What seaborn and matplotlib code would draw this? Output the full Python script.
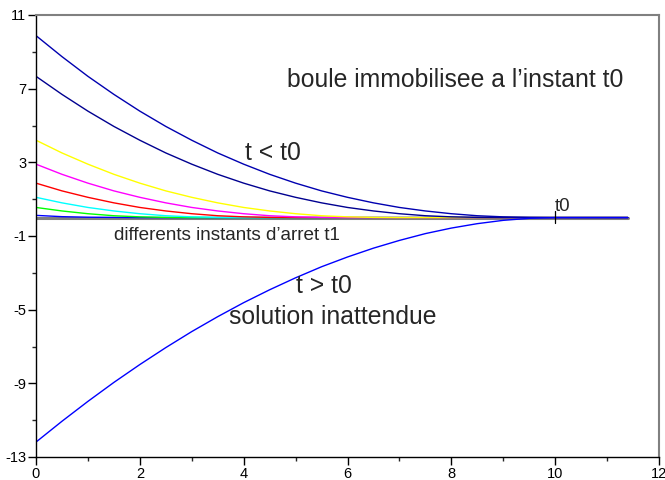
import numpy as np
import pandas as pd
import matplotlib
matplotlib.use("Agg")
import matplotlib.pyplot as plt
import seaborn as sns

# ---- data ----
x = [0, 0.5, 1, 1.5, 2, 2.5, 3, 3.5, 4, 4.5, 5, 5.5, 6, 6.5, 7, 7.5,
     8, 8.5, 9, 9.5, 10, 10.5, 11, 11.4]

# ball stopped at different instants t1 (value of x(t) before stopping)
y_t1_2 = [0.12, 0.05, 0.02, 0.01, 0, 0, 0, 0, 0, 0, 0, 0, 0, 0, 0, 0,
          0, 0, 0, 0, 0, 0, 0, 0]
y_t1_3 = [0.55, 0.36, 0.21, 0.10, 0.04, 0.01, 0, 0, 0, 0, 0, 0, 0, 0, 0, 0,
          0, 0, 0, 0, 0, 0, 0, 0]
y_t1_4 = [1.10, 0.80, 0.55, 0.36, 0.21, 0.10, 0.04, 0.01, 0, 0, 0, 0, 0, 0, 0, 0,
          0, 0, 0, 0, 0, 0, 0, 0]
y_t1_5 = [1.87, 1.45, 1.10, 0.80, 0.55, 0.36, 0.21, 0.10, 0.04, 0.01, 0, 0, 0, 0, 0, 0,
          0, 0, 0, 0, 0, 0, 0, 0]
y_t1_6 = [2.90, 2.35, 1.87, 1.45, 1.10, 0.80, 0.55, 0.36, 0.21, 0.10, 0.04, 0.01, 0, 0, 0, 0,
          0, 0, 0, 0, 0, 0, 0, 0]
y_t1_7 = [4.20, 3.51, 2.90, 2.35, 1.87, 1.45, 1.10, 0.80, 0.55, 0.36, 0.21, 0.10, 0.04, 0.01, 0, 0,
          0, 0, 0, 0, 0, 0, 0, 0]
y_t1_9 = [7.67, 6.69, 5.78, 4.95, 4.20, 3.51, 2.90, 2.35, 1.87, 1.45, 1.10, 0.80, 0.55, 0.36, 0.21, 0.10,
          0.04, 0.01, 0, 0, 0, 0, 0, 0]
y_t0 = [9.88, 8.74, 7.67, 6.69, 5.78, 4.95, 4.20, 3.51, 2.90, 2.35, 1.87, 1.45, 1.10, 0.80, 0.55, 0.36,
        0.21, 0.10, 0.04, 0.01, 0, 0, 0, 0]
# t > t0 : unexpected solution
y_inatt = [-12.19, -11.06, -9.98, -8.95, -7.98, -7.06, -6.19, -5.38, -4.62, -3.92, -3.27, -2.67,
           -2.14, -1.66, -1.24, -0.87, -0.57, -0.33, -0.15, -0.04, 0, 0, 0, 0]

curves = [
    (y_t1_2, "#0000ff"),
    (y_t1_3, "#00ff00"),
    (y_t1_4, "#00ffff"),
    (y_t1_5, "#ff0000"),
    (y_t1_6, "#ff00ff"),
    (y_t1_7, "#ffff00"),
    (y_t1_9, "#000090"),
    (y_t0, "#0000b0"),
    (y_inatt, "#0000ff"),
]

t0 = 10
xticks = [0, 2, 4, 6, 8, 10, 12]
yticks = [-13, -9, -5, -1, 3, 7, 11]

# ---- figure ----
sns.set_style("ticks")
plt.rcParams["font.family"] = ["Liberation Sans", "DejaVu Sans"]
plt.rcParams["axes.unicode_minus"] = False

fig = plt.figure(figsize=(6.65, 4.8), dpi=100)
ax = fig.add_axes([36 / 665, 1 - 457 / 480, (659 - 36) / 665, (457 - 15) / 480])

# grey zero line underneath
sns.lineplot(x=[x[0], x[-1]], y=[0, 0], color="#808080", lw=2.2, ax=ax, zorder=1)

for vals, col in curves:
    sns.lineplot(x=x, y=vals, color=col, lw=1, ax=ax, zorder=2)

# t0 marker
ax.plot([t0, t0], [0.38, -0.32], color="black", lw=0.9, zorder=3)
ax.text(t0, 0.36, "t0", fontsize=13.5, ha="left", va="baseline")

ax.text(4.84, 7.1, "boule immobilisee a l\u2019instant t0", fontsize=17.8, va="baseline")
ax.text(4.03, 3.13, "t < t0", fontsize=17.8, va="baseline")
ax.text(1.5, -1.21, "differents instants d\u2019arret t1", fontsize=13.6, va="baseline")
ax.text(5.0, -4.1, "t > t0", fontsize=17.8, va="baseline")
ax.text(3.72, -5.79, "solution inattendue", fontsize=17.8, va="baseline")

ax.set_xlim(0, 12)
ax.set_ylim(-13, 11)
ax.set_xticks(xticks)
ax.set_yticks(yticks)
ax.set_xticks([1, 3, 5, 7, 9, 11], minor=True)
ax.set_yticks([-11, -7, -3, 1, 5, 9], minor=True)
ax.tick_params(axis="both", which="major", direction="out", length=6, width=1,
               labelsize=10.5, colors="black", pad=1)
ax.tick_params(axis="both", which="minor", direction="out", length=3, width=1)
ax.set_xlabel("")
ax.set_ylabel("")

for side in ["left", "bottom"]:
    ax.spines[side].set_color("black")
    ax.spines[side].set_linewidth(1)
for side in ["top", "right"]:
    ax.spines[side].set_visible(True)
    ax.spines[side].set_color("#808080")
    ax.spines[side].set_linewidth(1.5)

fig.savefig("out.png", dpi=100)
